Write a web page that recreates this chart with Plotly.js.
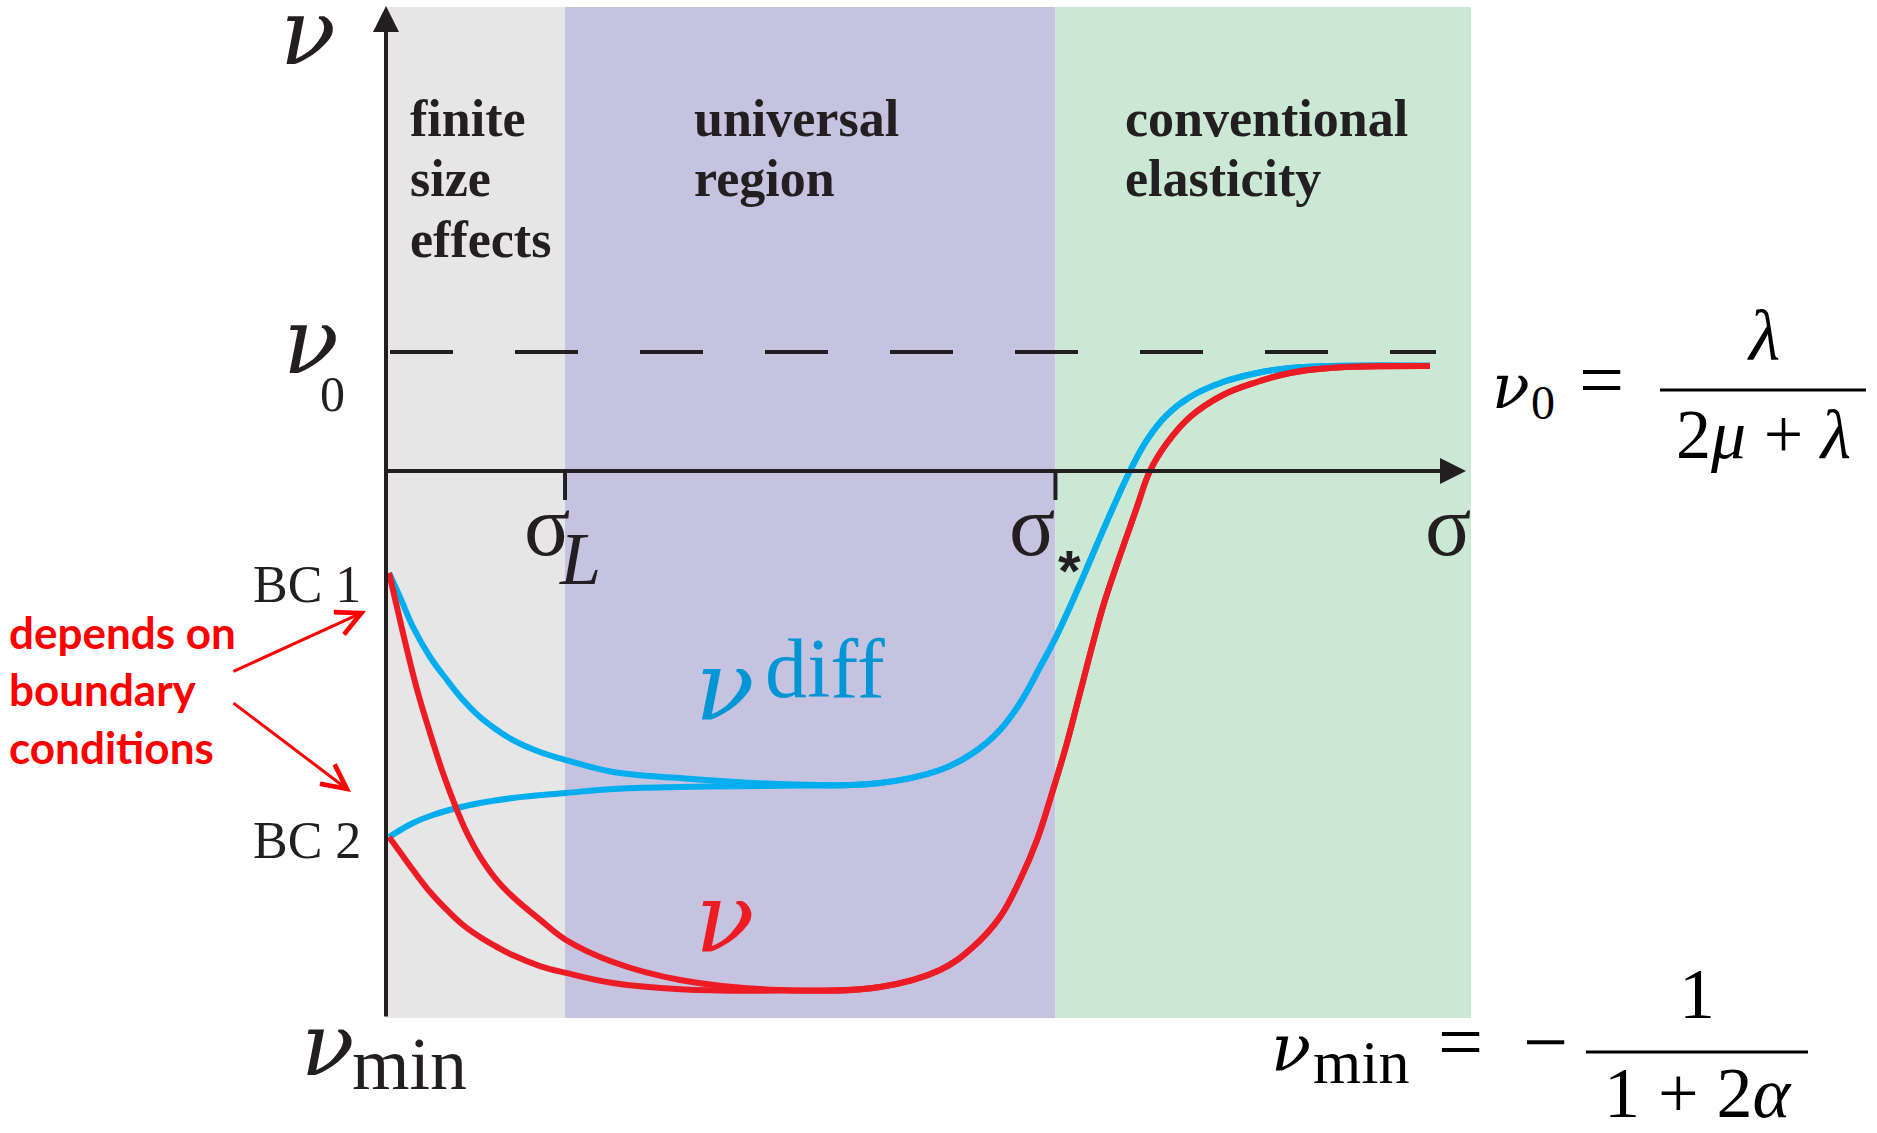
<!DOCTYPE html>
<html><head><meta charset="utf-8">
<script src="https://cdn.plot.ly/plotly-3.0.1.min.js"></script>
<style>html,body{margin:0;padding:0;background:#fff;} #chart{width:1877px;height:1133px;}</style>
</head><body><div id="chart"></div>
<script>
// ---------------- data (schematic units: sigma along x, nu along y; nu0 = 1) ----------------
const regionNames = [['finite','size','effects'], ['universal','region'], ['conventional','elasticity']];
const regionEdges = [0, 1.65, 6.17, 10.0];
const regionColors = ['#E6E6E6', '#C6C3E0', '#CAE8D3'];
const sigmaTicks = [1.65, 6.17];
const nu0 = 1.0;
const nuMin = -4.597;
const nuTop = 3.9;
const sigmaEnd = 9.954;
const bcLabels = ['BC 1', 'BC 2'];
const noteLines = ['depends on', 'boundary', 'conditions'];

// nu_diff (blue): start for BC 1, start for BC 2, common plateau + rise
const blueBC1_x = [0.028, 0.129, 0.249, 0.406, 0.562, 0.710, 0.866, 1.023, 1.171, 1.419, 1.659, 2.092, 2.710, 3.631];
const blueBC1_y = [-0.857, -1.059, -1.311, -1.563, -1.756, -1.924, -2.067, -2.176, -2.261, -2.361, -2.429, -2.529, -2.580, -2.630];
const blueBC2_x = [0.028, 0.249, 0.433, 0.654, 0.866, 1.171, 1.659, 2.092, 2.710, 3.631];
const blueBC2_y = [-3.076, -2.958, -2.891, -2.832, -2.790, -2.748, -2.706, -2.672, -2.655, -2.645];
const blueRise_x = [4.553, 5.106, 5.410, 5.659, 5.843, 6.028, 6.175, 6.332, 6.691, 6.857, 7.014, 7.198, 7.410, 7.714, 8.028, 8.332, 8.700, 9.622];
const blueRise_y = [-2.622, -2.513, -2.370, -2.176, -1.950, -1.647, -1.395, -1.084, -0.328, 0.000, 0.261, 0.471, 0.622, 0.748, 0.824, 0.866, 0.882, 0.884];
// nu (red): start for BC 1, start for BC 2, common plateau + rise
const redBC1_x = [0.028, 0.101, 0.194, 0.295, 0.406, 0.525, 0.654, 0.756, 0.866, 1.023, 1.171, 1.419, 1.659, 2.092, 2.710, 3.631];
const redBC1_y = [-0.857, -1.143, -1.504, -1.866, -2.202, -2.538, -2.849, -3.060, -3.240, -3.440, -3.580, -3.770, -3.941, -4.126, -4.277, -4.361];
const redBC2_x = [0.028, 0.129, 0.249, 0.406, 0.562, 0.710, 0.866, 1.023, 1.171, 1.419, 1.659, 2.092, 2.710, 3.631];
const redBC2_y = [-3.076, -3.202, -3.353, -3.538, -3.689, -3.815, -3.916, -4.000, -4.070, -4.160, -4.218, -4.303, -4.355, -4.366];
const redRise_x = [4.553, 5.106, 5.410, 5.659, 5.843, 6.000, 6.147, 6.276, 6.396, 6.516, 6.627, 6.912, 7.041, 7.198, 7.410, 7.714, 8.028, 8.332, 8.700, 9.622];
const redRise_y = [-4.336, -4.193, -4.000, -3.748, -3.437, -3.101, -2.681, -2.286, -1.866, -1.445, -1.084, -0.328, 0.000, 0.235, 0.454, 0.639, 0.748, 0.824, 0.866, 0.882];

// ---------------- styling / layout helpers ----------------
const W = 1877, H = 1133;
const X = px => (px - 386) / 108.5;   // pixel -> sigma units (layout placement only)
const Y = py => (471 - py) / 119;     // pixel -> nu units (layout placement only)
const INK = '#231F20', BLUE = '#00AEEF', RED = '#ED1C24', BLUE_TXT = '#0096D6';
const SERIF = 'Liberation Serif, Times New Roman, serif';
const GREEK = 'DejaVu Serif, serif';
const SANS = 'Lato, Open Sans, sans-serif';

function lab(text, px, base, size, o = {}) {
  const fam = o.fam || SERIF;
  const m = (o.m !== undefined) ? o.m : (fam === GREEK ? 0.346 : 0.3375);
  return {text, x: X(px), y: Y(base - m * size), xref: 'x', yref: 'y', showarrow: false,
    xanchor: o.xa || 'left', yanchor: 'middle', borderpad: 0,
    font: {family: fam, size, color: o.color || INK}};
}
function arrow(x, y, ax, ay, color, width, head, size) {
  return {text: '', x, y, ax, ay, xref: 'x', yref: 'y', axref: 'x', ayref: 'y', showarrow: true,
    arrowhead: head, arrowsize: size, arrowwidth: width, arrowcolor: color, standoff: 0, startstandoff: 0};
}

const series = [
  {x: blueBC1_x.concat(blueRise_x), y: blueBC1_y.concat(blueRise_y), name: 'ν diff, BC 1', color: BLUE},
  {x: blueBC2_x.concat(blueRise_x), y: blueBC2_y.concat(blueRise_y), name: 'ν diff, BC 2', color: BLUE},
  {x: redBC1_x.concat(redRise_x), y: redBC1_y.concat(redRise_y), name: 'ν, BC 1', color: RED},
  {x: redBC2_x.concat(redRise_x), y: redBC2_y.concat(redRise_y), name: 'ν, BC 2', color: RED}
];
const traces = series.map(s => ({type: 'scatter', mode: 'lines', hoverinfo: 'skip', x: s.x, y: s.y, name: s.name,
  line: {color: s.color, width: 6, shape: 'spline', smoothing: 1.1}}));

const shapes = [];
regionColors.forEach((c, i) => shapes.push({type: 'rect', xref: 'x', yref: 'y', layer: 'below',
  x0: regionEdges[i], x1: regionEdges[i + 1], y0: nuMin, y1: nuTop, fillcolor: c, line: {width: 0}}));
shapes.push({type: 'line', xref: 'x', yref: 'y', layer: 'below', x0: X(390), x1: X(1436), y0: nu0, y1: nu0,
  line: {color: INK, width: 4, dash: '63px,62px'}});
sigmaTicks.forEach(t => shapes.push({type: 'line', xref: 'x', yref: 'y', x0: t, x1: t, y0: 0, y1: Y(500),
  line: {color: INK, width: 4}}));
// fraction bars of the two formulas
shapes.push({type: 'line', xref: 'x', yref: 'y', x0: X(1660), x1: X(1866), y0: Y(390), y1: Y(390), line: {color: '#000', width: 3}});
shapes.push({type: 'line', xref: 'x', yref: 'y', x0: X(1586), x1: X(1808), y0: Y(1052), y1: Y(1052), line: {color: '#000', width: 3}});

const ann = [];
// axes with arrow heads
ann.push(arrow(0, Y(6), 0, nuMin, INK, 4, 2, 1.3));
ann.push(arrow(sigmaEnd, 0, 0, 0, INK, 4, 2, 1.3));
// region titles
const regionLeft = [409, 693, 1124];
regionNames.forEach((lines, i) => lines.forEach((s, j) =>
  ann.push(lab('<b>' + s + '</b>', regionLeft[i], 136 + 60.5 * j, 52))));
// axis symbols
ann.push(lab('<i>ν</i>', 279, 64, 92, {fam: GREEK}));
ann.push(lab('<i>ν</i>', 282, 373, 92, {fam: GREEK}));
ann.push(lab('0', 319, 411, 50));
ann.push(lab('σ', 523, 555, 86));
ann.push(lab('<i>L</i>', 558, 584, 74));
ann.push(lab('σ', 1008, 555, 86));
ann.push({text: '<b>*</b>', x: X(1069), y: Y(570), xref: 'x', yref: 'y', showarrow: false, xanchor: 'center', yanchor: 'middle',
  font: {family: 'Liberation Sans, Arial, sans-serif', size: 58, color: INK}});
ann.push(lab('σ', 1424, 555, 86));
ann.push(lab('<i>ν</i>', 300, 1075, 88, {fam: GREEK}));
ann.push(lab('min', 351, 1089, 74));
// boundary condition labels
bcLabels.forEach((s, i) => ann.push(lab(s, 362, [602, 858][i], 52, {xa: 'right'})));
// red note and arrows
noteLines.forEach((s, i) => ann.push(lab('<b>' + s + '</b>', 8, 649 + 57.5 * i, 44, {fam: SANS, color: '#FF0000', m: 0.387})));
ann.push(arrow(X(366), Y(611), X(232), Y(672), '#FF0000', 3, 5, 1.6));
ann.push(arrow(X(351), Y(792), X(232), Y(702), '#FF0000', 3, 5, 1.6));
// curve labels
ann.push(lab('<i>ν</i>', 694, 720, 98, {fam: GREEK, color: BLUE_TXT}));
ann.push(lab('diff', 764, 697, 84, {color: BLUE_TXT}));
ann.push(lab('<i>ν</i>', 694, 952, 98, {fam: GREEK, color: RED}));
// formulas on the right
ann.push(lab('<i>ν</i>', 1491, 408, 62, {fam: GREEK, color: '#000'}));
ann.push(lab('0', 1530, 419, 48, {color: '#000'}));
ann.push(lab('=', 1578, 407, 80, {color: '#000'}));
ann.push(lab('<i>λ</i>', 1763, 360, 72, {xa: 'center', color: '#000'}));
ann.push(lab('2<i>μ</i> + <i>λ</i>', 1763, 458, 70, {xa: 'center', color: '#000'}));
ann.push(lab('<i>ν</i>', 1270, 1071, 66, {fam: GREEK, color: '#000'}));
ann.push(lab('min', 1312, 1083, 62, {color: '#000'}));
ann.push(lab('=', 1437, 1069, 80, {color: '#000'}));
ann.push(lab('−', 1522, 1069, 80, {color: '#000'}));
ann.push(lab('1', 1697, 1018, 72, {xa: 'center', color: '#000'}));
ann.push(lab('1 + 2<i>α</i>', 1698, 1117, 72, {xa: 'center', color: '#000'}));

const layout = {
  width: W, height: H, margin: {l: 0, r: 0, t: 0, b: 0},
  paper_bgcolor: '#fff', plot_bgcolor: '#fff', showlegend: false,
  xaxis: {range: [X(0), X(W)], visible: false, fixedrange: true},
  yaxis: {range: [Y(H), Y(0)], visible: false, fixedrange: true},
  shapes, annotations: ann
};
Plotly.newPlot('chart', traces, layout, {displayModeBar: false, staticPlot: true});
</script></body></html>
